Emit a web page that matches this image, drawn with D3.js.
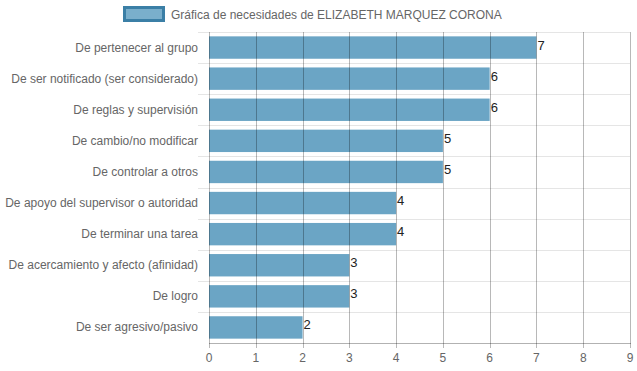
<!DOCTYPE html>
<html><head><meta charset="utf-8">
<script src="https://cdn.jsdelivr.net/npm/d3@7"></script>
<style>body{margin:0;background:#fff}svg{display:block;font-family:"Liberation Sans",Arial,Helvetica,sans-serif}</style>
</head><body><svg id="c" width="637" height="371"></svg>
<script>
const categories = ["De pertenecer al grupo","De ser notificado (ser considerado)","De reglas y supervisión","De cambio/no modificar","De controlar a otros","De apoyo del supervisor o autoridad","De terminar una tarea","De acercamiento y afecto (afinidad)","De logro","De ser agresivo/pasivo"];
const values = [7,6,6,5,5,4,4,3,3,2];
const xTicks = [0,1,2,3,4,5,6,7,8,9];
const seriesLabel = "Gráfica de necesidades de ELIZABETH MARQUEZ CORONA";

const svg = d3.select("#c");
const L = 209, R = 630, T = 32, B = 343;
const x = d3.scaleLinear().domain([0,9]).range([L,R]);
const y = d3.scaleBand().domain(categories).range([T,B]).paddingInner(0).paddingOuter(0);
const barH = y.bandwidth()*0.72;

// horizontal grid lines (category boundaries)
const hb = categories.map((c)=>y(c));
svg.append("g").selectAll("line").data(hb).join("line")
  .attr("x1",L-11).attr("x2",R).attr("y1",d=>Math.round(d)+0.5).attr("y2",d=>Math.round(d)+0.5)
  .attr("stroke","rgba(0,0,0,0.1)");

// bars
svg.append("g").selectAll("rect").data(values).join("rect")
  .attr("x",x(0)).attr("y",(d,i)=>y(categories[i])+(y.bandwidth()-barH)/2)
  .attr("width",d=>x(d)-x(0)).attr("height",barH)
  .attr("fill","#6ba5c5");

// vertical grid lines
svg.append("g").selectAll("line").data(xTicks).join("line")
  .attr("x1",d=>Math.round(x(d))+0.5).attr("x2",d=>Math.round(x(d))+0.5)
  .attr("y1",T).attr("y2",B+5)
  .attr("stroke","rgba(0,0,0,0.28)");
// bottom axis line
svg.append("line").attr("x1",L).attr("x2",R+1).attr("y1",B+0.5).attr("y2",B+0.5).attr("stroke","rgba(0,0,0,0.3)");

// x tick labels
svg.append("g").selectAll("text").data(xTicks).join("text")
  .attr("x",d=>x(d)).attr("y",B+19).attr("text-anchor","middle")
  .attr("font-size",12).attr("fill","#666").text(d=>d);

// category labels
svg.append("g").selectAll("text").data(categories).join("text")
  .attr("x",L-11).attr("y",d=>y(d)+y.bandwidth()/2+4).attr("text-anchor","end")
  .attr("font-size",12).attr("fill","#666").text(d=>d);

// value labels
svg.append("g").selectAll("text").data(values).join("text")
  .attr("x",d=>x(d)+1).attr("y",(d,i)=>y(categories[i])+y.bandwidth()/2+2)
  .attr("font-size",13).attr("fill","#222").text(d=>d);

// legend
svg.append("rect").attr("x",124.5).attr("y",7.5).attr("width",39).attr("height",13)
  .attr("fill","#7aafcc").attr("stroke","#3b7fa6").attr("stroke-width",3);
svg.append("text").attr("x",171).attr("y",18.5).attr("font-size",12).attr("fill","#666").text(seriesLabel);
</script></body></html>
